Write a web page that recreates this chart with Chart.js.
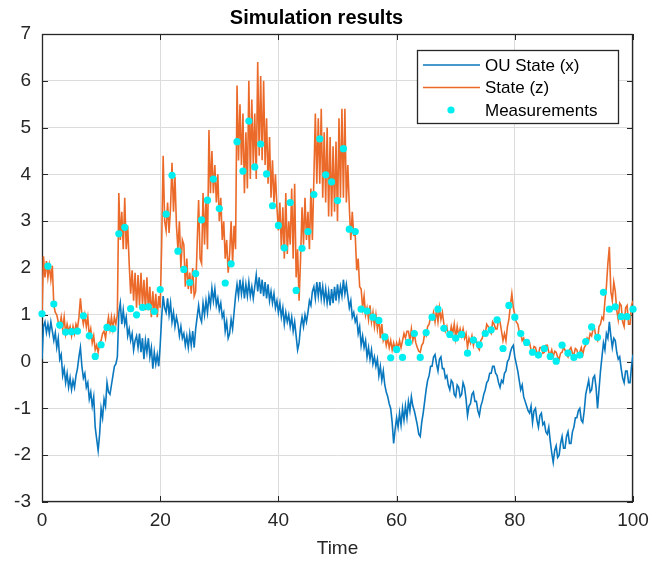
<!DOCTYPE html>
<html>
<head>
<meta charset="utf-8">
<title>Simulation results</title>
<script src="https://cdn.jsdelivr.net/npm/chart.js@4/dist/chart.umd.min.js"></script>
<style>
    html, body { margin: 0; padding: 0; background: #ffffff; }
    #wrap { width: 660px; height: 562px; }
</style>
</head>
<body>
<div id="wrap"><canvas id="simulacion" width="660" height="562"></canvas></div>
<script>
// Sampling step of the simulated paths (time units)
const TIME_STEP = 0.25;

// OU state (x), every 0.25 time units (8 values = 2 time units per row)
const ouState = [
    0.05, 0.75, 0.85, 0.62, 0.80, 0.60, 0.85, 0.65,
    0.45, 0.62, 0.30, 0.50, 0.05, 0.15, -0.30, -0.15,
    -0.45, -0.25, -0.55, -0.35, -0.60, -0.40, -0.55, -0.30,
    -0.15, 0.10, 0.30, -0.10, -0.35, -0.25, -0.55, -0.45,
    -0.80, -0.65, -0.95, -0.75, -1.40, -1.65, -1.90, -1.55,
    -1.00, -1.20, -0.80, -0.95, -0.45, -0.65, -0.70, -0.50,
    -0.30, -0.10, -0.05, 0.10, 1.05, 1.25, 0.80, 1.10,
    0.80, 0.95, 0.55, 0.70, 0.45, 0.60, 0.25, 0.45,
    0.55, 0.30, 0.60, 0.20, 0.50, 0.05, 0.45, 0.20,
    0.50, 0.10, 0.30, -0.15, 0.20, -0.05, 0.15, -0.10,
    0.35, 0.95, 1.40, 1.15, 1.05, 1.35, 1.00, 1.25,
    0.85, 1.05, 0.75, 0.95, 0.80, 0.55, 0.75, 0.50,
    0.60, 0.35, 0.55, 0.30, 0.60, 0.35, 0.65, 0.30,
    0.70, 0.95, 1.20, 0.95, 0.85, 1.25, 1.00, 1.30,
    1.05, 1.40, 1.20, 1.57, 1.30, 1.55, 1.20, 1.35,
    1.10, 1.25, 0.95, 1.05, 0.65, 0.85, 0.50, 0.60,
    0.90, 0.70, 1.05, 1.40, 1.65, 1.40, 1.75, 1.45,
    1.70, 1.35, 1.65, 1.40, 1.70, 1.40, 1.60, 1.35,
    1.60, 1.85, 1.50, 1.80, 1.45, 1.75, 1.40, 1.70,
    1.35, 1.65, 1.30, 1.50, 1.25, 1.45, 1.15, 1.30,
    1.05, 1.25, 0.95, 1.15, 0.80, 1.05, 0.85, 1.00,
    0.75, 0.95, 0.65, 0.85, 0.55, 0.25, 0.40, 0.75,
    0.95, 0.75, 1.00, 0.85, 1.05, 1.30, 1.20, 1.50,
    1.60, 1.35, 1.70, 1.40, 1.70, 1.35, 1.60, 1.30,
    1.55, 1.25, 1.50, 1.20, 1.55, 1.25, 1.60, 1.30,
    1.65, 1.35, 1.60, 1.40, 1.75, 1.45, 1.65, 1.40,
    1.15, 1.30, 0.95, 1.05, 0.85, 0.95, 0.60, 0.75,
    0.35, 0.55, 0.30, 0.45, 0.10, 0.30, 0.05, 0.25,
    -0.05, 0.10, -0.10, 0.05, -0.30, -0.10, -0.40, -0.20,
    -0.50, -0.65, -0.75, -0.90, -1.00, -1.30, -1.75, -1.45,
    -1.20, -1.40, -1.10, -1.35, -1.00, -1.25, -0.95, -1.20,
    -0.85, -1.05, -0.75, -0.95, -1.05, -1.20, -1.35, -1.55,
    -1.60, -1.30, -1.10, -0.85, -0.60, -0.40, -0.30, -0.10,
    -0.10, 0.10, 0.15, -0.05, -0.20, 0.05, 0.10, -0.15,
    -0.15, -0.35, -0.30, -0.50, -0.60, -0.40, -0.45, -0.70,
    -0.75, -0.50, -0.55, -0.75, -0.70, -0.45, -0.55, -0.80,
    -1.15, -0.95, -0.90, -0.70, -0.65, -0.85, -0.85, -1.05,
    -1.15, -0.95, -0.85, -0.70, -0.60, -0.45, -0.40, -0.25,
    -0.25, -0.10, -0.10, -0.25, -0.30, -0.45, -0.55, -0.40,
    -0.45, -0.25, -0.20, 0.00, 0.05, 0.20, 0.30, 0.35,
    0.10, -0.05, -0.20, -0.40, -0.60, -0.50, -0.75, -0.85,
    -0.95, -1.05, -1.10, -0.95, -1.30, -1.05, -1.00, -1.25,
    -1.40, -1.15, -1.10, -1.35, -1.30, -1.50, -1.55, -1.40,
    -1.70, -1.95, -2.15, -1.90, -1.80, -2.05, -2.00, -1.75,
    -1.60, -1.85, -1.85, -1.60, -1.50, -1.75, -1.75, -1.50,
    -1.40, -1.20, -1.20, -1.05, -1.00, -1.25, -1.30, -1.05,
    -0.70, -0.55, -0.40, -0.65, -0.60, -0.35, -0.30, -0.55,
    -1.00, -0.60, -0.20, 0.10, 0.40, 0.25, 0.60, 0.50,
    0.85, 0.55, 0.30, 0.50, 0.45, 0.20, 0.05, 0.10,
    -0.15, -0.35, -0.45, -0.20, -0.20, -0.45, -0.45, -0.10,
    0.15
];

// State (z), same time grid
const stateZ = [
    1.00, 2.25, 1.80, 2.15, 1.80, 2.05, 1.75, 2.05,
    1.20, 1.05, 1.00, 0.85, 0.75, 0.95, 0.70, 0.95,
    0.60, 0.80, 0.65, 0.75, 0.55, 0.75, 0.60, 0.80,
    0.70, 0.95, 1.35, 1.00, 0.80, 1.00, 0.75, 0.95,
    0.55, 0.70, 0.40, 0.55, 0.25, 0.35, 0.20, 0.40,
    0.45, 0.60, 0.65, 0.50, 0.75, 0.95, 0.70, 0.95,
    0.70, 0.95, 0.80, 1.00, 3.60, 2.60, 3.20, 2.40,
    3.50, 2.40, 2.90, 2.10, 1.45, 1.95, 1.30, 1.90,
    1.15, 1.85, 1.20, 1.90, 1.20, 1.75, 1.10, 1.80,
    1.10, 1.60, 0.95, 1.50, 1.00, 1.45, 0.95, 1.40,
    1.15, 2.50, 4.40, 3.00, 2.80, 3.40, 2.75, 3.30,
    4.25, 3.20, 3.95, 2.90, 2.40, 3.00, 2.00, 2.60,
    2.50, 1.60, 2.20, 1.55, 1.90, 1.45, 2.00, 1.40,
    1.50, 2.50, 3.45, 2.20, 2.10, 3.60, 2.50, 3.50,
    2.40, 4.95, 3.60, 4.50, 3.60, 4.20, 3.40, 4.00,
    3.00, 3.50, 2.60, 3.00, 2.20, 2.60, 1.90, 2.30,
    3.00, 2.10, 2.90, 2.40, 5.90, 4.30, 5.50, 4.20,
    5.30, 3.60, 4.90, 3.70, 6.00, 3.90, 5.60, 4.20,
    5.30, 3.90, 6.40, 4.40, 6.10, 4.30, 6.00, 4.20,
    5.20, 3.80, 4.80, 3.50, 4.30, 3.40, 4.00, 3.30,
    2.80, 3.40, 2.40, 3.30, 2.20, 3.60, 2.30, 3.00,
    2.50, 3.70, 2.20, 3.80, 1.80, 2.40, 1.30, 2.20,
    3.30, 2.50, 3.50, 2.60, 3.20, 2.40, 3.70, 2.60,
    3.90, 5.30, 3.80, 5.20, 3.80, 5.40, 3.50, 4.90,
    3.40, 5.00, 3.10, 4.80, 3.10, 4.60, 3.20, 4.70,
    3.00, 5.20, 3.50, 5.40, 3.50, 5.40, 3.40, 4.20,
    3.30, 2.60, 3.20, 2.70, 2.70, 1.95, 2.20, 1.60,
    1.55, 1.15, 1.40, 1.00, 1.15, 0.90, 1.20, 0.85,
    1.05, 0.75, 1.00, 0.70, 0.95, 0.50, 0.80, 0.45,
    0.55, 0.35, 0.50, 0.30, 0.45, 0.25, 0.40, 0.25,
    0.40, 0.28, 0.45, 0.30, 0.45, 0.60, 0.50, 0.65,
    0.65, 0.45, 0.70, 0.45, 0.60, 0.40, 0.30, 0.22,
    0.20, 0.35, 0.40, 0.60, 0.55, 0.75, 0.80, 0.95,
    0.90, 1.05, 0.85, 1.10, 0.85, 1.15, 0.90, 1.05,
    0.80, 0.65, 0.75, 0.55, 0.55, 0.75, 0.60, 0.80,
    0.50, 0.75, 0.55, 0.70, 0.55, 0.70, 0.50, 0.60,
    0.30, 0.50, 0.40, 0.55, 0.35, 0.50, 0.45, 0.30,
    0.25, 0.45, 0.50, 0.65, 0.60, 0.80, 0.75, 0.65,
    0.60, 0.85, 0.80, 0.70, 0.70, 0.90, 0.85, 0.65,
    0.45, 0.60, 0.45, 0.75, 0.90, 1.20, 1.45, 1.15,
    1.00, 0.85, 0.80, 0.65, 0.60, 0.45, 0.50, 0.35,
    0.35, 0.45, 0.40, 0.25, 0.20, 0.32, 0.30, 0.18,
    0.15, 0.30, 0.30, 0.18, 0.20, 0.35, 0.35, 0.20,
    0.15, 0.25, 0.10, 0.22, 0.20, 0.10, 0.05, 0.18,
    0.20, 0.30, 0.25, 0.15, 0.10, 0.25, 0.30, 0.18,
    0.15, 0.28, 0.25, 0.12, 0.20, 0.30, 0.15, 0.30,
    0.35, 0.50, 0.45, 0.60, 0.55, 0.70, 0.70, 0.50,
    0.45, 0.75, 0.80, 0.95, 0.90, 1.30, 1.60, 2.10,
    2.45, 1.50, 1.30, 1.70, 1.50, 1.10, 0.90, 1.25,
    1.20, 0.85, 0.75, 1.15, 1.20, 0.80, 0.80, 1.20,
    1.30
];

// Measurements, one per time unit (t = 0 ... 100)
const measurements = [
    1.02, 2.04, 1.23, 0.78, 0.63, 0.64, 0.65, 0.98, 0.55, 0.11,
    0.36, 0.73, 0.70, 2.73, 2.87, 1.13, 1.00, 1.16, 1.17, 1.07,
    1.54, 3.15, 3.98, 2.36, 1.97, 1.69, 1.88, 3.03, 3.45, 3.90,
    3.27, 1.68, 2.09, 4.70, 4.07, 5.14, 4.16, 4.65, 4.01, 3.33,
    2.91, 2.43, 3.40, 1.52, 2.42, 2.78, 3.57, 4.76, 3.99, 3.84,
    3.44, 4.55, 2.83, 2.78, 1.12, 1.08, 0.95, 0.88, 0.53, 0.08,
    0.26, 0.09, 0.41, 0.60, 0.09, 0.62, 0.95, 1.12, 0.71, 0.58,
    0.50, 0.58, 0.18, 0.46, 0.36, 0.60, 0.68, 0.89, 0.28, 1.20,
    0.95, 0.60, 0.41, 0.20, 0.14, 0.28, 0.11, 0.01, 0.35, 0.18,
    0.09, 0.14, 0.43, 0.74, 0.52, 1.48, 1.12, 1.17, 0.96, 0.96,
    1.12
];

const seriesLabels = ["OU State (x)", "State (z)", "Measurements"];
const seriesColors = ["#0a78be", "#eb6a2a", "#00eef0"];

const FONT = "'Liberation Sans', Arial, Helvetica, sans-serif";
const INK = "#262626";

// Box around the axes with the inward ticks on all four sides
const axesBox = {
    id: "axesBox",
    beforeDatasetsDraw(chart) {
        const { ctx, chartArea: a, scales: { x, y } } = chart;
        ctx.save();
        ctx.strokeStyle = INK;
        ctx.lineWidth = 1;
        ctx.beginPath();
        x.ticks.forEach((t) => {
            const px = Math.round(x.getPixelForValue(t.value)) + 0.5;
            ctx.moveTo(px, a.bottom);
            ctx.lineTo(px, a.bottom - 6);
            ctx.moveTo(px, a.top);
            ctx.lineTo(px, a.top + 6);
        });
        y.ticks.forEach((t) => {
            const py = Math.round(y.getPixelForValue(t.value)) + 0.5;
            ctx.moveTo(a.left, py);
            ctx.lineTo(a.left + 6, py);
            ctx.moveTo(a.right, py);
            ctx.lineTo(a.right - 6, py);
        });
        ctx.stroke();
        ctx.lineWidth = 1.3;
        ctx.strokeRect(Math.round(a.left) + 0.5, Math.round(a.top) + 0.5,
            Math.round(a.width) - 1, Math.round(a.height) - 1);
        ctx.restore();
    }
};

// MATLAB style legend in the top right corner of the axes
const boxLegend = {
    id: "boxLegend",
    afterDatasetsDraw(chart) {
        const { ctx, chartArea: a } = chart;
        const w = 201, h = 73;
        const left = a.right - 15 - w;
        const top = a.top + 16;
        ctx.save();
        ctx.fillStyle = "#ffffff";
        ctx.fillRect(left, top, w, h);
        ctx.strokeStyle = INK;
        ctx.lineWidth = 1.3;
        ctx.strokeRect(left + 0.5, top + 0.5, w, h);
        ctx.font = "17px " + FONT;
        ctx.textBaseline = "middle";
        ctx.textAlign = "left";
        chart.data.datasets.forEach((ds, i) => {
            const rowY = top + 15 + i * 22.5;
            if (ds.type === "line") {
                ctx.strokeStyle = ds.borderColor;
                ctx.lineWidth = 1.5;
                ctx.beginPath();
                ctx.moveTo(left + 6, rowY);
                ctx.lineTo(left + 63, rowY);
                ctx.stroke();
            } else {
                ctx.fillStyle = ds.backgroundColor;
                ctx.beginPath();
                ctx.arc(left + 34, rowY, 3.6, 0, Math.PI * 2);
                ctx.fill();
            }
            ctx.fillStyle = "#000000";
            ctx.fillText(ds.label, left + 68, rowY + 1);
        });
        ctx.restore();
    }
};

function buildChart() {
    const lineX = ouState.map((v, i) => ({ x: i * TIME_STEP, y: v }));
    const lineZ = stateZ.map((v, i) => ({ x: i * TIME_STEP, y: v }));
    const dots = measurements.map((v, i) => ({ x: i, y: v }));

    const ctx = document.getElementById("simulacion").getContext("2d");
    new Chart(ctx, {
        data: {
            datasets: [
                {
                    type: "line",
                    label: seriesLabels[0],
                    data: lineX,
                    borderColor: seriesColors[0],
                    borderWidth: 1.6,
                    pointRadius: 0,
                    tension: 0,
                    order: 3,
                },
                {
                    type: "line",
                    label: seriesLabels[1],
                    data: lineZ,
                    borderColor: seriesColors[1],
                    borderWidth: 1.6,
                    pointRadius: 0,
                    tension: 0,
                    order: 2,
                },
                {
                    type: "scatter",
                    label: seriesLabels[2],
                    data: dots,
                    backgroundColor: seriesColors[2],
                    borderWidth: 0,
                    pointRadius: 3.6,
                    clip: false,
                    order: 1,
                },
            ],
        },
        options: {
            responsive: false,
            animation: false,
            events: [],
            layout: { padding: { left: 0, right: 27, top: 0, bottom: 0 } },
            plugins: {
                legend: { display: false },
                tooltip: { enabled: false },
                title: {
                    display: true,
                    text: "Simulation results",
                    color: "#000000",
                    font: { family: FONT, size: 20, weight: "bold", lineHeight: 1.2 },
                    padding: { top: 6, bottom: 4 },
                },
            },
            scales: {
                x: {
                    type: "linear",
                    min: 0,
                    max: 100,
                    ticks: { stepSize: 20, color: INK, padding: 7, font: { family: FONT, size: 19 } },
                    grid: { color: "#dcdcdc", lineWidth: 1, drawTicks: false },
                    border: { display: false },
                    title: {
                        display: true,
                        text: "Time",
                        color: INK,
                        font: { family: FONT, size: 19, lineHeight: 1.2 },
                        padding: { top: 0, bottom: 2 },
                    },
                    afterFit: (s) => { s.height = 60; },
                },
                y: {
                    type: "linear",
                    min: -3,
                    max: 7,
                    ticks: { stepSize: 1, color: INK, padding: 11, font: { family: FONT, size: 19 } },
                    grid: { color: "#dcdcdc", lineWidth: 1, drawTicks: false },
                    border: { display: false },
                    afterFit: (s) => { s.width = 42; },
                },
            },
        },
        plugins: [axesBox, boxLegend],
    });
}

buildChart();
</script>
</body>
</html>
